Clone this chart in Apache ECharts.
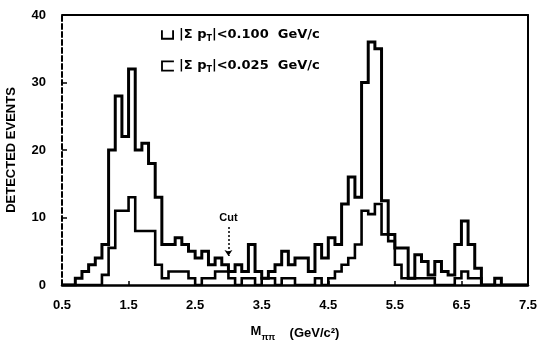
<!DOCTYPE html>
<html>
<head>
<meta charset="utf-8">
<script src="https://cdn.jsdelivr.net/npm/echarts@6/dist/echarts.min.js"></script>
<style>
  html, body { margin: 0; padding: 0; background: #fff; }
  #chart { width: 543px; height: 343px; }
</style>
</head>
<body>
<div id="chart"></div>
<script>
// Histogram binning (GeV/c^2)
const binStart = 0.5;
const binWidth = 0.1;

// Detected events per 0.1 GeV/c^2 bin, 0.5 .. 7.5
const wideCut = [
  0, 0, 1, 2, 3, 4, 6, 20, 28, 22,
  32, 20, 21, 18, 13, 6, 6, 7, 6, 5,
  4, 5, 3, 4, 3, 2, 3, 2, 6, 2,
  1, 2, 3, 5, 3, 4, 4, 2, 6, 4,
  7, 6, 12, 16, 13, 30, 36, 35, 12.5, 7.5,
  5.5, 5.5, 1, 4.5, 3.5, 1.5, 3.5, 2, 1.5, 6,
  9.5, 6, 2.5, 0, 0, 1, 0, 0, 0, 0
];
const narrowCut = [
  0, 0, 0, 0, 0, 0, 1.5, 5.5, 11, 11,
  13, 8, 8, 8, 3, 1, 2, 2, 2, 1,
  0, 1, 1, 2, 2, 1, 0, 1, 1, 0,
  1, 1, 0, 1, 1, 0, 0, 0, 1, 0,
  1, 2, 3, 4, 6, 11, 10.5, 12, 7.5, 6.5,
  3, 1, 1, 1, 1, 1, 0, 0, 0, 1,
  2, 1, 1, 0, 0, 0, 0, 0, 0, 0
];

const xTicks = [0.5, 1.5, 2.5, 3.5, 4.5, 5.5, 6.5, 7.5];
const yTicks = [0, 10, 20, 30, 40];
const cutMass = 3.0;
const cutArrow = [8.6, 4.3];
const seriesNames = ['|Σ p_T|<0.100  GeV/c', '|Σ p_T|<0.025  GeV/c'];

// Turn bin contents into the corner points of a step outline
function stepPoints(counts) {
  const pts = counts.map((c, i) => [+(binStart + i * binWidth).toFixed(2), c]);
  pts.push([+(binStart + counts.length * binWidth).toFixed(2), 0]);
  return pts;
}

const font = 'Liberation Sans, Arial, sans-serif';
const wideFont = 'DejaVu Sans, sans-serif';
const chart = echarts.init(document.getElementById('chart'), null, { renderer: 'canvas' });

chart.setOption({
  animation: false,
  backgroundColor: '#fff',
  textStyle: { fontFamily: font, color: '#000' },
  grid: { left: 62, right: 15, top: 15, bottom: 58, containLabel: false, outerBoundsMode: 'none' },
  legend: {
    left: 156, top: 22, orient: 'vertical', itemGap: 15,
    itemWidth: 13, itemHeight: 11,
    data: [
      { name: seriesNames[0], icon: 'path://M0,0 L2,0 L2,8 L12,8 L12,0 L14,0 L14,10 L0,10 Z' },
      { name: seriesNames[1], icon: 'path://M0,0 L14,0 L14,2 L2,2 L2,10 L14,10 L14,12 L0,12 Z' }
    ],
    formatter: n => n.replace('p_T', 'p{sub|T}'),
    textStyle: {
      fontFamily: wideFont, fontWeight: 'bold', fontSize: 13, color: '#000', lineHeight: 16,
      rich: { sub: { fontFamily: wideFont, fontWeight: 'bold', fontSize: 8, verticalAlign: 'bottom', lineHeight: 8 } }
    }
  },
  xAxis: [{
    type: 'value', min: xTicks[0], max: xTicks[xTicks.length - 1], interval: 1,
    name: '{m|M}{s|ππ}    (GeV/c²)', nameLocation: 'middle', nameGap: 40,
    nameTextStyle: {
      fontFamily: font, fontWeight: 'bold', fontSize: 13, color: '#000',
      rich: {
        m: { fontFamily: font, fontWeight: 'bold', fontSize: 13, verticalAlign: 'top' },
        s: { fontFamily: font, fontWeight: 'bold', fontSize: 9, verticalAlign: 'bottom', padding: [8, 0, 0, 0] }
      }
    },
    splitLine: { show: false },
    axisLine: { show: true, onZero: false, lineStyle: { color: '#000', width: 2.5 } },
    axisTick: { show: true, inside: true, length: 4, lineStyle: { color: '#000', width: 1.5 } },
    axisLabel: {
      fontFamily: font, fontWeight: 'bold', fontSize: 13, color: '#000', margin: 14,
      formatter: v => v.toFixed(1)
    }
  }, {
    type: 'value', position: 'top', min: xTicks[0], max: xTicks[xTicks.length - 1],
    splitLine: { show: false }, axisTick: { show: false }, axisLabel: { show: false },
    axisLine: { show: true, onZero: false, lineStyle: { color: '#000', width: 2 } }
  }],
  yAxis: [{
    type: 'value', min: yTicks[0], max: yTicks[yTicks.length - 1], interval: 10,
    name: 'DETECTED EVENTS', nameLocation: 'middle', nameGap: 44,
    nameTextStyle: { fontFamily: font, fontWeight: 'bold', fontSize: 13, color: '#000' },
    splitLine: { show: false },
    axisLine: { show: true, onZero: false, lineStyle: { color: '#000', width: 2, type: [5, 3] } },
    axisTick: { show: true, inside: true, length: 5, lineStyle: { color: '#000', width: 1.5 } },
    axisLabel: { fontFamily: font, fontWeight: 'bold', fontSize: 13, color: '#000', margin: 16 }
  }, {
    type: 'value', position: 'right', min: yTicks[0], max: yTicks[yTicks.length - 1],
    splitLine: { show: false }, axisTick: { show: false }, axisLabel: { show: false },
    axisLine: { show: true, onZero: false, lineStyle: { color: '#000', width: 2 } }
  }],
  series: [{
    name: seriesNames[0], type: 'line', step: 'end', showSymbol: false,
    data: stepPoints(wideCut), z: 3,
    lineStyle: { color: '#000', width: 3, join: 'miter' }, itemStyle: { color: '#000' },
    markLine: {
      silent: true, animation: false,
      lineStyle: { color: '#000', width: 1.5, type: [2, 2] },
      label: { show: true, position: 'start', formatter: 'Cut', fontFamily: font, fontWeight: 'bold', fontSize: 11, color: '#000', distance: 3 },
      data: [[
        { coord: [cutMass, cutArrow[0]], symbol: 'none' },
        { coord: [cutMass, cutArrow[1]], symbol: 'arrow', symbolSize: 6 }
      ]]
    }
  }, {
    name: seriesNames[1], type: 'line', step: 'end', showSymbol: false,
    data: stepPoints(narrowCut), z: 2,
    lineStyle: { color: '#000', width: 2.6, join: 'miter' }, itemStyle: { color: '#000' }
  }]
});
</script>
</body>
</html>
